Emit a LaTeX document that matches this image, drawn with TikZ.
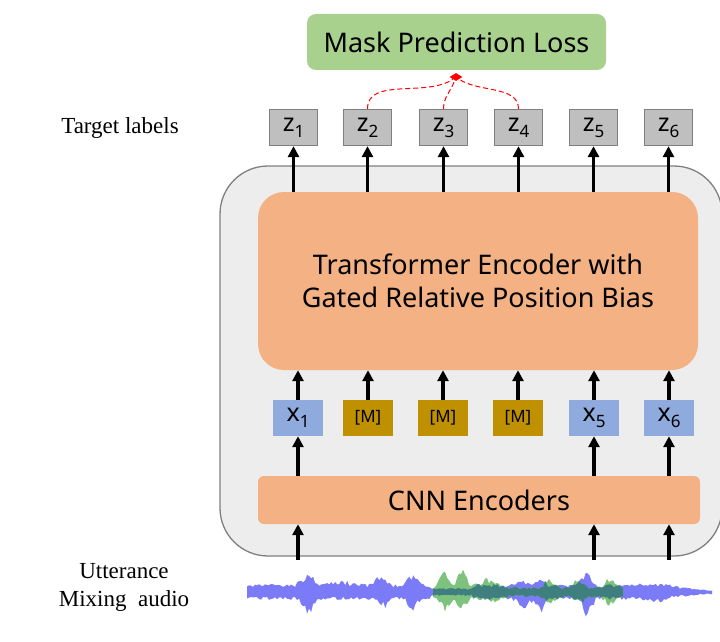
\documentclass[tikz,border=0pt]{standalone}
\usepackage{fontspec}
\setmainfont{Liberation Serif}
\newfontfamily\boxfont{Noto Sans}
\usetikzlibrary{arrows.meta,positioning,calc,shapes.geometric}
\definecolor{wlgray}{HTML}{EDEDED}
\definecolor{wlframe}{HTML}{7F7F7F}
\definecolor{wlorange}{HTML}{F4B183}
\definecolor{wlgreen}{HTML}{A9D18E}
\definecolor{wlzgray}{HTML}{BFBFBF}
\definecolor{wlblue}{HTML}{8FAADC}
\definecolor{wlmask}{HTML}{BF9000}
\definecolor{waveblue}{HTML}{7B7BF7}
\definecolor{wavegreen}{HTML}{7DC27D}
\definecolor{waveteal}{HTML}{3F7F7F}
\newcommand{\tok}[2]{#1\raisebox{-0.45ex}{\fontsize{17}{17}\selectfont #2}}
\tikzset{
  encbox/.style={draw=wlframe, line width=1.3pt, fill=wlgray, rounded corners=48pt, minimum width=502pt, minimum height=390pt},
  transbox/.style={fill=wlorange, rounded corners=26pt, minimum width=440pt, minimum height=178pt, align=center, font=\boxfont\fontsize{27}{33}\selectfont},
  cnnbox/.style={fill=wlorange, rounded corners=6pt, minimum width=442pt, minimum height=48pt, font=\boxfont\fontsize{27}{30}\selectfont},
  lossbox/.style={fill=wlgreen, rounded corners=9pt, minimum width=299pt, minimum height=56pt, font=\boxfont\fontsize{27}{30}\selectfont},
  zbox/.style={draw=wlframe, line width=1.3pt, fill=wlzgray, minimum width=48pt, minimum height=36pt, inner sep=0pt, font=\boxfont\fontsize{25}{27}\selectfont},
  xbox/.style={fill=wlblue, minimum width=50pt, minimum height=36pt, inner sep=0pt, font=\boxfont\fontsize{25}{27}\selectfont},
  mbox/.style={fill=wlmask, minimum width=50pt, minimum height=36pt, inner sep=0pt, font=\boxfont\fontsize{17}{19}\selectfont},
  sidelabel/.style={align=center, font=\fontsize{23}{28}\selectfont},
  arr/.style={line width=3.5pt, -{Triangle[length=11pt,width=11pt]}},
  lossdash/.style={red, dash pattern=on 5pt off 3pt, line width=1pt},
}

\begin{document}
\begin{tikzpicture}[x=1pt,y=-1pt,
  declare function={
    g(\x,\c,\w)=exp(-min(((\x-\c)/\w)^2,20));
    base(\x)=8-4*(\x>430)*(\x<472)-6*(\x>650)*(\x-650)/62;
    bup(\x)=base(\x)+11*g(\x,308,8)+4*g(\x,340,15)+9*g(\x,380,7)+14*g(\x,413,6)+7*g(\x,521,7)+9*g(\x,540,6)+14*g(\x,586,6)+2*g(\x,660,20);
    bdn(\x)=base(\x)+20*g(\x,308,6)+9*g(\x,385,6)+12*g(\x,413,6)+11*g(\x,523,7)+15*g(\x,540,5)+19*g(\x,587,6)+5*g(\x,655,10);
    gup(\x)=5+21*g(\x,445,6)+20*g(\x,462,6)+9*g(\x,487,12)+9*g(\x,550,7)+9*g(\x,578,7)+10*g(\x,610,7);
    gdn(\x)=5+17*g(\x,445,6)+15*g(\x,462,6)+6*g(\x,490,13)+7*g(\x,550,8)+7*g(\x,580,8)+9*g(\x,610,7);
  }]
  \useasboundingbox (0,0) rectangle (720,642);

  % encoder frame and blocks
  \node[encbox] (enc) at (471,361) {};
  \node[transbox] (trans) at (478,281) {Transformer Encoder with\\Gated Relative Position Bias};
  \node[cnnbox] (cnn) at (479,500) {CNN Encoders};

  % frame tokens
  \node[xbox] (x1) at (298,418) {\tok{x}{1}};
  \node[mbox] (x2) at (368,418) {[M]};
  \node[mbox] (x3) at (443,418) {[M]};
  \node[mbox] (x4) at (518,418) {[M]};
  \node[xbox] (x5) at (594,418) {\tok{x}{5}};
  \node[xbox] (x6) at (669,418) {\tok{x}{6}};

  % target labels
  \foreach \i/\px in {1/293.5,2/367.5,3/443.5,4/518.5,5/593.5,6/668.5}
    \node[zbox] (z\i) at (\px,127.5) {\tok{z}{\i}};

  \node[lossbox] (loss) at (456.5,42) {Mask Prediction Loss};
  \node[diamond, fill=red, inner sep=0pt, minimum width=13pt, minimum height=8pt] (join) at (456,77) {};

  \draw[lossdash] (z2.north) to[out=90,in=215,looseness=0.9] (join);
  \draw[lossdash] (z3.north) to[out=90,in=250] (join);
  \draw[lossdash] (z4.north) to[out=90,in=-35,looseness=0.9] (join);

  % arrows
  \foreach \i in {1,...,6} {
    \draw[arr] (z\i |- trans.north) -- (z\i.south);
    \draw[arr] (x\i.north) -- (x\i |- trans.south);
  }
  \foreach \i in {1,5,6} {
    \draw[arr] (x\i |- cnn.north) -- (x\i.south);
    \draw[arr] ($(x\i |- enc.south)+(0,3)$) -- (x\i |- cnn.south);
  }

  \node[sidelabel] (tgt) at (120,128) {Target labels};
  \node[sidelabel] (mix) at (124,587) {Utterance\\Mixing~ audio};

  % waveform
  \pgfmathsetseed{3}
  \fill[waveblue] plot[domain=247:712,samples=233] (\x,{592-bup(\x)*(0.55+0.45*rnd)})
    -- plot[domain=712:247,samples=233] (\x,{592+bdn(\x)*(0.55+0.45*rnd)}) -- cycle;
  \pgfmathsetseed{7}
  \fill[wavegreen] plot[domain=433:623,samples=96] (\x,{592-gup(\x)*(0.55+0.45*rnd)})
    -- plot[domain=623:433,samples=96] (\x,{592+gdn(\x)*(0.55+0.45*rnd)}) -- cycle;
  \begin{scope}
    \pgfmathsetseed{7}
    \clip plot[domain=433:623,samples=96] (\x,{592-gup(\x)*(0.55+0.45*rnd)})
      -- plot[domain=623:433,samples=96] (\x,{592+gdn(\x)*(0.55+0.45*rnd)}) -- cycle;
    \pgfmathsetseed{3}
    \fill[waveteal] plot[domain=247:712,samples=233] (\x,{592-bup(\x)*(0.55+0.45*rnd)})
      -- plot[domain=712:247,samples=233] (\x,{592+bdn(\x)*(0.55+0.45*rnd)}) -- cycle;
  \end{scope}
\end{tikzpicture}
\end{document}
